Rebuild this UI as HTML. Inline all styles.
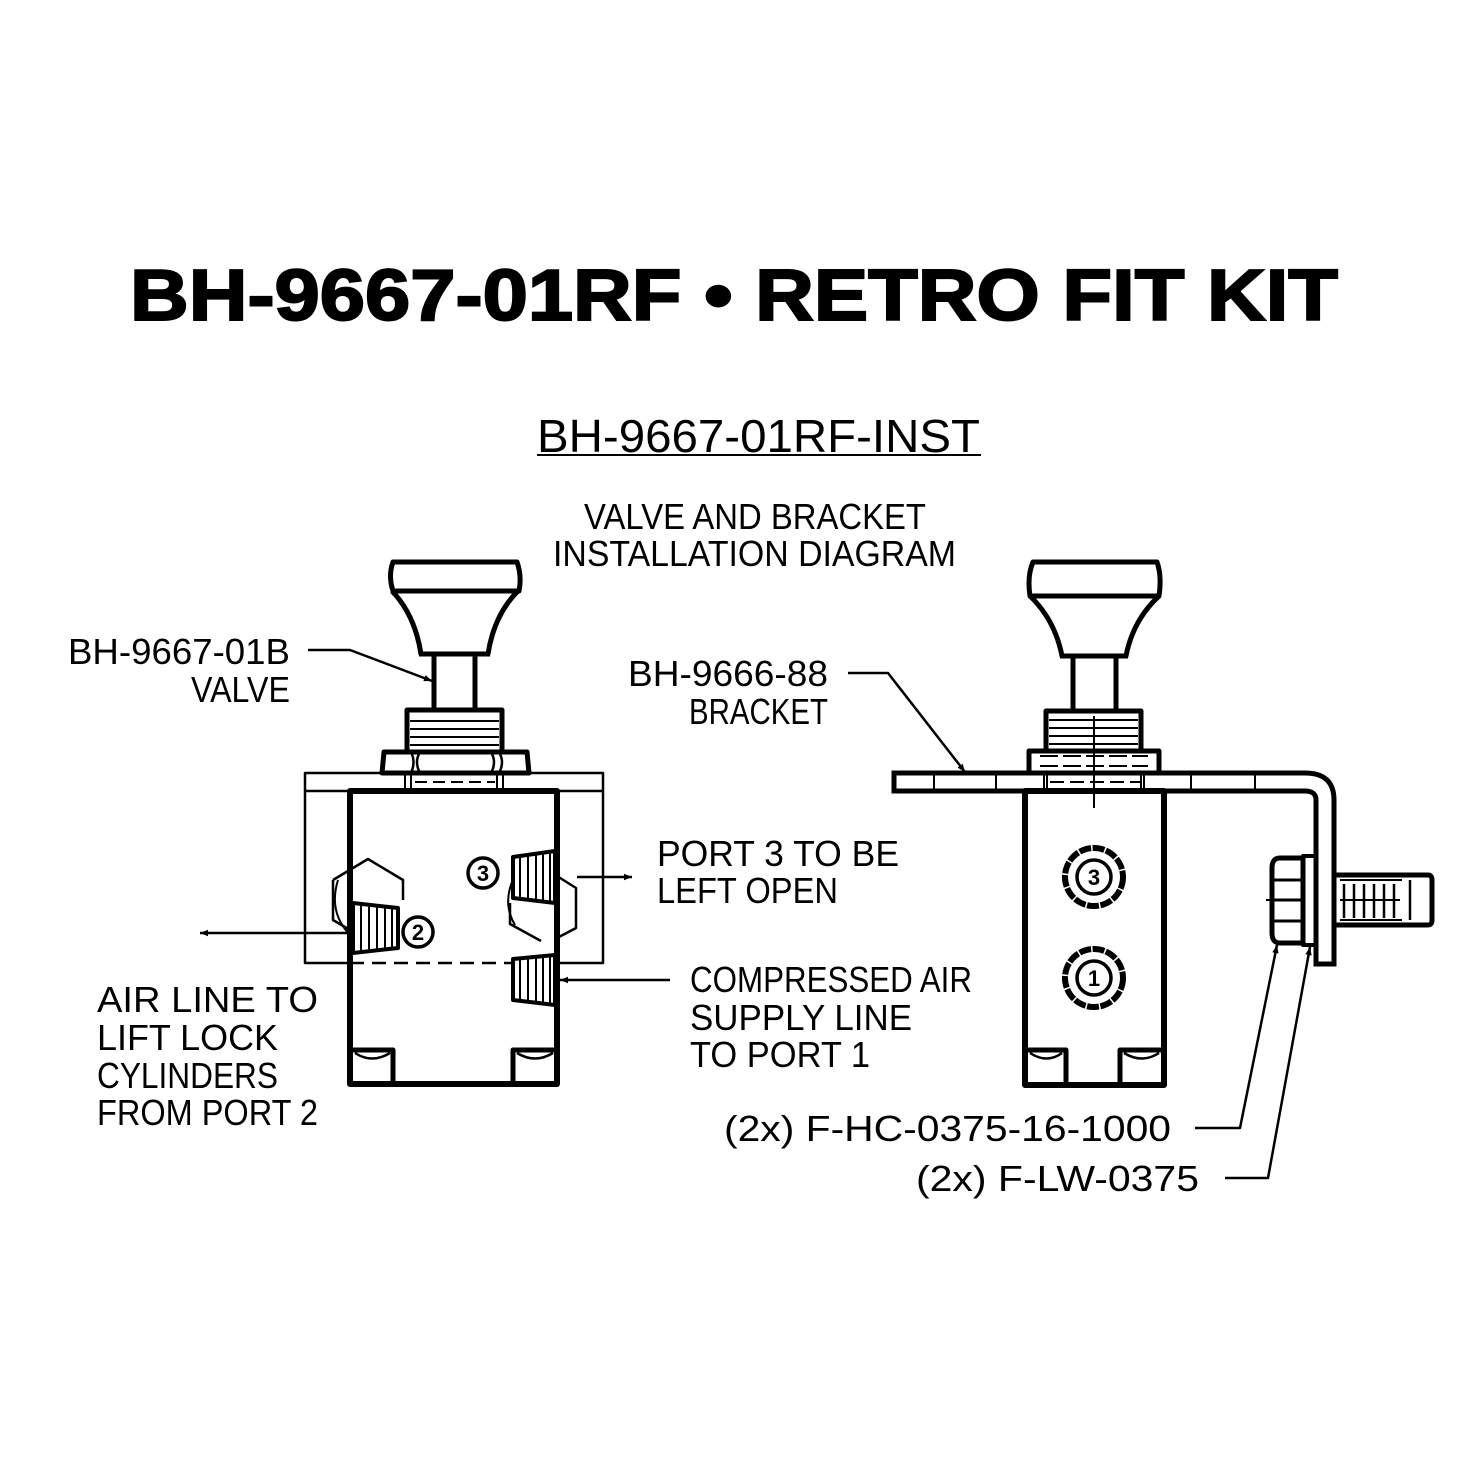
<!DOCTYPE html>
<html><head><meta charset="utf-8"><style>
html,body{margin:0;padding:0;background:#fff}
svg{display:block}
text{font-family:"Liberation Sans",sans-serif;fill:#000}
.t{font-size:36px}
.n{font-size:22px;text-anchor:middle;font-weight:bold}
</style></head><body>
<svg width="1467" height="1467" viewBox="0 0 1467 1467" xmlns="http://www.w3.org/2000/svg">
<defs>
<marker id="ar" viewBox="0 0 10 10" refX="10" refY="5" markerWidth="18" markerHeight="8" markerUnits="userSpaceOnUse" orient="auto"><path d="M0,1 L10,5 L0,9 z" fill="#000"/></marker>
</defs>
<!-- Title -->
<text x="130" y="320" font-size="72" font-weight="bold" stroke="#000" stroke-width="2" textLength="1208" lengthAdjust="spacingAndGlyphs">BH-9667-01RF • RETRO FIT KIT</text>
<text x="537" y="452" font-size="46" textLength="443" lengthAdjust="spacingAndGlyphs">BH-9667-01RF-INST</text>
<line x1="537" y1="455" x2="981" y2="455" stroke="#000" stroke-width="2"/>
<g class="t">
<text x="584" y="529" textLength="342" lengthAdjust="spacingAndGlyphs">VALVE AND BRACKET</text>
<text x="553" y="566" textLength="403" lengthAdjust="spacingAndGlyphs">INSTALLATION DIAGRAM</text>
<text x="68" y="664" textLength="222" lengthAdjust="spacingAndGlyphs">BH-9667-01B</text>
<text x="191" y="702" textLength="99" lengthAdjust="spacingAndGlyphs">VALVE</text>
<text x="628" y="686" textLength="200" lengthAdjust="spacingAndGlyphs">BH-9666-88</text>
<text x="689" y="724" textLength="139" lengthAdjust="spacingAndGlyphs">BRACKET</text>
<text x="657" y="866" textLength="242" lengthAdjust="spacingAndGlyphs">PORT 3 TO BE</text>
<text x="657" y="903" textLength="181" lengthAdjust="spacingAndGlyphs">LEFT OPEN</text>
<text x="690" y="992" textLength="282" lengthAdjust="spacingAndGlyphs">COMPRESSED AIR</text>
<text x="690" y="1030" textLength="222" lengthAdjust="spacingAndGlyphs">SUPPLY LINE</text>
<text x="690" y="1067" textLength="180" lengthAdjust="spacingAndGlyphs">TO PORT 1</text>
<text x="97" y="1012" textLength="221" lengthAdjust="spacingAndGlyphs">AIR LINE TO</text>
<text x="97" y="1050" textLength="181" lengthAdjust="spacingAndGlyphs">LIFT LOCK</text>
<text x="97" y="1088" textLength="181" lengthAdjust="spacingAndGlyphs">CYLINDERS</text>
<text x="97" y="1125" textLength="221" lengthAdjust="spacingAndGlyphs">FROM PORT 2</text>
<text x="724" y="1141" textLength="447" lengthAdjust="spacingAndGlyphs">(2x) F-HC-0375-16-1000</text>
<text x="916" y="1191" textLength="283" lengthAdjust="spacingAndGlyphs">(2x) F-LW-0375</text>
</g>
<text class="n" x="418" y="940">2</text>
<text class="n" x="483" y="881">3</text>
<text class="n" x="1094" y="885">3</text>
<text class="n" x="1094" y="986">1</text>

<g fill="none" stroke="#000" stroke-linejoin="round">
<!-- LEFT VALVE -->
<path d="M393,562 L517,562 Q522,576 519,591 L393,591 Q388,576 393,562 Z" stroke-width="5"/>
<path d="M392,591 Q415,615 421,654 L488,654 Q494,615 518,591" stroke-width="5"/>
<line x1="419" y1="654" x2="490" y2="654" stroke-width="5"/>
<line x1="434" y1="654" x2="434" y2="710" stroke-width="5"/>
<line x1="475" y1="654" x2="475" y2="710" stroke-width="5"/>
<rect x="407" y="710" width="95" height="42" stroke-width="5"/>
<g stroke-width="2"><line x1="410" y1="721" x2="499" y2="721"/><line x1="410" y1="729" x2="499" y2="729"/><line x1="410" y1="737" x2="499" y2="737"/><line x1="410" y1="745" x2="499" y2="745"/></g>
<path d="M384,752 L527,752 L529,773 L382,773 Z" stroke-width="5"/>
<path d="M411,752 Q416,762 411,773 M420,752 Q414,762 420,773 M499,752 Q505,762 499,773 M491,752 Q497,762 491,773" stroke-width="2.5"/>
<!-- bracket outline -->
<path d="M350,963 L305,963 L305,773 L603,773 L603,963 L557,963" stroke-width="2.5"/>
<line x1="305" y1="791" x2="350" y2="791" stroke-width="2.5"/>
<line x1="557" y1="791" x2="603" y2="791" stroke-width="2.5"/>
<line x1="350" y1="963" x2="557" y2="963" stroke-width="2.5" stroke-dasharray="14,8"/>
<line x1="405" y1="773" x2="405" y2="791" stroke-width="2"/><line x1="411" y1="773" x2="411" y2="791" stroke-width="2"/>
<line x1="497" y1="773" x2="497" y2="791" stroke-width="2"/><line x1="503" y1="773" x2="503" y2="791" stroke-width="2"/>
<line x1="415" y1="782" x2="495" y2="782" stroke-width="2" stroke-dasharray="12,6"/>
<!-- body -->
<rect x="350" y="791" width="207" height="293" stroke-width="6"/>
<path d="M350,1050 L393,1050 L393,1084 M557,1050 L513,1050 L513,1084" stroke-width="5"/>
<path d="M355,1053 Q372,1064 390,1053 M517,1053 Q535,1064 553,1053" stroke-width="2.5"/>
<!-- left hex (port 2 nut) -->
<path d="M333,880 L368,859 L403,880 L403,900 M350,930 L333,920 L333,880" stroke-width="2.5"/>
<path d="M338,880 Q328,912 350,935" stroke-width="2"/>
<path d="M353,903 L398,908 L398,948 L353,953 Z" stroke-width="4" fill="#fff"/>
<g stroke-width="2"><line x1="361" y1="905" x2="361" y2="951"/><line x1="369" y1="906" x2="369" y2="951"/><line x1="377" y1="906" x2="377" y2="950"/><line x1="385" y1="907" x2="385" y2="949"/><line x1="392" y1="907" x2="392" y2="949"/></g>
<circle cx="418" cy="932" r="15" stroke-width="3.5"/>
<!-- port 3 side nut -->
<path d="M557,876 L576,888 L576,928 L557,938 M541,941 L510,924 L510,903" stroke-width="2.5"/>
<path d="M512,882 Q503,905 515,925" stroke-width="2"/>
<path d="M513,857 L555,851 L555,903 L513,898 Z" stroke-width="4" fill="#fff"/>
<g stroke-width="2"><line x1="520" y1="856" x2="520" y2="899"/><line x1="528" y1="855" x2="528" y2="900"/><line x1="536" y1="854" x2="536" y2="901"/><line x1="543" y1="853" x2="543" y2="901"/><line x1="550" y1="852" x2="550" y2="902"/></g>
<circle cx="483" cy="873" r="15" stroke-width="3.5"/>
<!-- port 1 fitting -->
<path d="M513,959 L555,955 L555,1005 L513,1000 Z" stroke-width="4" fill="#fff"/>
<g stroke-width="2"><line x1="520" y1="958" x2="520" y2="1001"/><line x1="528" y1="957" x2="528" y2="1002"/><line x1="536" y1="957" x2="536" y2="1003"/><line x1="543" y1="956" x2="543" y2="1003"/><line x1="550" y1="956" x2="550" y2="1004"/></g>
<!-- arrows left -->
<line x1="577" y1="877" x2="632" y2="877" stroke-width="2.5" marker-end="url(#ar)"/>
<line x1="670" y1="980" x2="560" y2="980" stroke-width="2.5" marker-end="url(#ar)"/>
<line x1="350" y1="933" x2="200" y2="933" stroke-width="2.5" marker-end="url(#ar)"/>
<polyline points="308,650 350,650 432,681" stroke-width="2.5" marker-end="url(#ar)"/>

<!-- RIGHT VALVE -->
<path d="M1033,562 L1157,562 Q1162,576 1159,596 L1030,596 Q1027,576 1033,562 Z" stroke-width="5"/>
<path d="M1030,596 Q1055,620 1062,656 L1126,656 Q1133,620 1159,596" stroke-width="5"/>
<line x1="1060" y1="656" x2="1128" y2="656" stroke-width="5"/>
<line x1="1073" y1="656" x2="1073" y2="711" stroke-width="5"/>
<line x1="1116" y1="656" x2="1116" y2="711" stroke-width="5"/>
<rect x="1046" y="711" width="95" height="40" stroke-width="5"/>
<g stroke-width="2"><line x1="1049" y1="720" x2="1138" y2="720"/><line x1="1049" y1="728" x2="1138" y2="728"/><line x1="1049" y1="736" x2="1138" y2="736"/><line x1="1049" y1="744" x2="1138" y2="744"/></g>
<rect x="1029" y="751" width="130" height="22" stroke-width="5"/>
<path d="M1040,756 L1148,756 M1040,766 L1148,766" stroke-width="2" stroke-dasharray="18,5"/>
<!-- bracket plate -->
<path d="M894,773 L1305,773 Q1334,773 1334,800 L1334,964 L1316,964 L1316,800 Q1316,791 1305,791 L894,791 Z" stroke-width="5" stroke-linejoin="miter"/>
<g stroke-width="2"><line x1="934" y1="773" x2="934" y2="791"/><line x1="996" y1="773" x2="996" y2="791"/><line x1="1191" y1="773" x2="1191" y2="791"/><line x1="1255" y1="773" x2="1255" y2="791"/>
<line x1="1044" y1="773" x2="1044" y2="791"/><line x1="1047" y1="773" x2="1047" y2="791"/><line x1="1141" y1="773" x2="1141" y2="791"/><line x1="1144" y1="773" x2="1144" y2="791"/></g>
<line x1="1050" y1="782" x2="1140" y2="782" stroke-width="2" stroke-dasharray="14,6"/>
<line x1="1094" y1="716" x2="1094" y2="808" stroke-width="2"/>
<!-- body -->
<rect x="1025" y="791" width="139" height="294" stroke-width="6"/>
<path d="M1025,1050 L1066,1050 L1066,1085 M1164,1050 L1120,1050 L1120,1085" stroke-width="5"/>
<path d="M1030,1053 Q1047,1064 1062,1053 M1124,1053 Q1142,1064 1159,1053" stroke-width="2.5"/>
<circle cx="1094" cy="877" r="29" stroke-width="6" stroke-dasharray="12,1.5"/>
<circle cx="1094" cy="877" r="17" stroke-width="3.5"/>
<circle cx="1094" cy="978" r="29" stroke-width="6" stroke-dasharray="12,1.5"/>
<circle cx="1094" cy="978" r="17" stroke-width="3.5"/>
<!-- bolt -->
<path d="M1303,858 L1280,858 Q1272,858 1272,868 L1272,933 Q1272,943 1280,943 L1303,943 Z" stroke-width="5"/>
<path d="M1273,880 L1303,880 M1273,900 L1303,900 M1273,921 L1303,921" stroke-width="3"/>
<line x1="1266" y1="900" x2="1273" y2="900" stroke-width="2"/>
<rect x="1303" y="856" width="13" height="89" stroke-width="4"/>
<path d="M1334,875 L1428,875 Q1432,875 1432,880 L1432,920 Q1432,925 1428,925 L1334,925" stroke-width="5"/>
<path d="M1340,880 L1402,880 M1340,920 L1402,920" stroke-width="2"/>
<g stroke-width="2.5"><line x1="1344" y1="884" x2="1344" y2="918"/><line x1="1354" y1="884" x2="1354" y2="918"/><line x1="1364" y1="884" x2="1364" y2="918"/><line x1="1374" y1="884" x2="1374" y2="918"/><line x1="1384" y1="884" x2="1384" y2="918"/><line x1="1394" y1="884" x2="1394" y2="918"/><line x1="1410" y1="880" x2="1410" y2="920"/></g>
<line x1="1340" y1="900" x2="1400" y2="900" stroke-width="2"/>
<!-- leaders right -->
<polyline points="848,673 888,673 965,772" stroke-width="2.5" marker-end="url(#ar)"/>
<polyline points="1195,1128 1240,1128 1277,945" stroke-width="2.5" marker-end="url(#ar)"/>
<polyline points="1225,1178 1268,1178 1310,947" stroke-width="2.5" marker-end="url(#ar)"/>
</g>
</svg>
</body></html>
